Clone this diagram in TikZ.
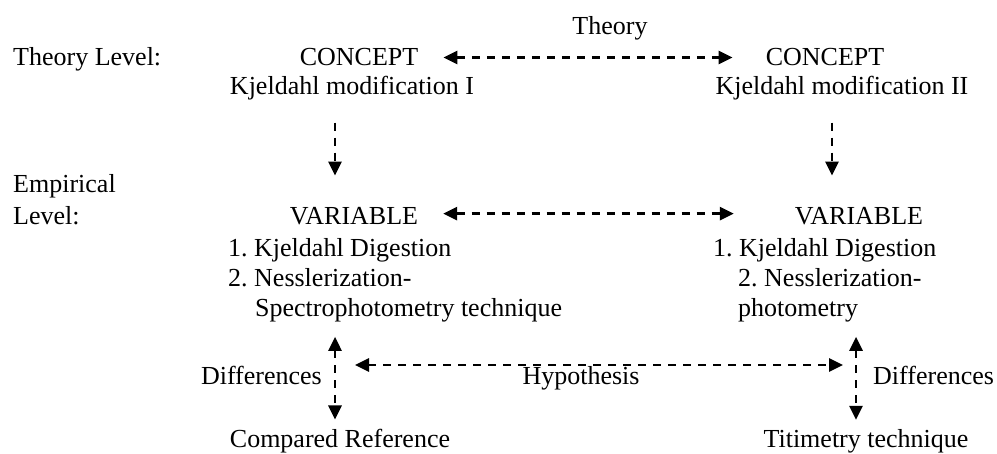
\documentclass[tikz,border=0pt]{standalone}
\usepackage{fontspec}
\setmainfont{Liberation Serif}
\usepackage{tikz}
\usetikzlibrary{arrows.meta}

\begin{document}
\begin{tikzpicture}[
  x=1pt, y=-1pt,
  txt/.style={inner sep=0pt, font=\fontsize{26}{30}\selectfont\frenchspacing},
  arr/.style={-{Triangle[length=14pt,width=13pt]}, line width=2.7pt,
              dash pattern=on 8pt off 7pt},
  darr/.style={{Triangle[length=14pt,width=13pt]}-{Triangle[length=14pt,width=13pt]},
               line width=2.7pt, dash pattern=on 8pt off 7pt}
]
  \useasboundingbox (0,0) rectangle (997,454);
  % Theory level
  \node[txt, anchor=base] (theory) at (610,35) {Theory};
  \node[txt, anchor=base west] (lvlT) at (13,66) {Theory Level:};
  \node[txt, anchor=base] (cL) at (359,66) {CONCEPT};
  \node[txt, anchor=base] (kL) at (352,95) {Kjeldahl modification I};
  \node[txt, anchor=base] (cR) at (825,66) {CONCEPT};
  \node[txt, anchor=base] (kR) at (842,95) {Kjeldahl modification II};
  % Empirical level
  \node[txt, anchor=base west] (emp)  at (13,193) {Empirical};
  \node[txt, anchor=base west] (lvlE) at (13,225) {Level:};
  \node[txt, anchor=base] (vL) at (354,225) {VARIABLE};
  \node[txt, anchor=base] (vR) at (859,225) {VARIABLE};
  \node[txt, anchor=base west] (l1) at (228,257) {1. Kjeldahl Digestion};
  \node[txt, anchor=base west] (l2) at (228,287) {2. Nesslerization-};
  \node[txt, anchor=base west] (l3) at (255,317) {Spectrophotometry technique};
  \node[txt, anchor=base west] (r1) at (713,257) {1. Kjeldahl Digestion};
  \node[txt, anchor=base west] (r2) at (738,287) {2. Nesslerization-};
  \node[txt, anchor=base west] (r3) at (738,317) {photometry};
  % Hypothesis
  \node[txt, anchor=base east] (difL) at (322,385) {Differences};
  \node[txt, anchor=base west] (difR) at (873,385) {Differences};
  \node[txt, anchor=base] (hyp) at (581,385) {Hypothesis};
  \node[txt, anchor=base] (crL) at (340,448) {Compared Reference};
  \node[txt, anchor=base] (crR) at (866,448) {Titimetry technique};
  % arrow columns
  \coordinate (colTL) at (335,0);
  \coordinate (colTR) at (832,0);
  \coordinate (dL) at (335,365);
  \coordinate (dR) at (856,365);

  \draw[darr, shorten <=25pt, shorten >=33pt] (cL.east) -- (cR.west);
  \draw[darr, shorten <=25pt, shorten >=61pt] ([yshift=3pt]vL.east) -- ([yshift=3pt]vR.west);
  \draw[arr, shorten <=22pt, shorten >=32pt] (kL.south -| colTL) -- (vL.north -| colTL);
  \draw[arr, shorten <=22pt, shorten >=32pt] (kR.south -| colTR) -- (vR.north -| colTR);
  \draw[darr, shorten <=14pt, shorten >=10pt] (l3.south -| dL) -- (crL.north -| dL);
  \draw[darr, shorten <=14pt, shorten >=10pt] (r3.south -| dR) -- (crR.north -| dR);
  \draw[darr, shorten <=20pt, shorten >=13pt] (dL) -- (dR);
\end{tikzpicture}
\end{document}
